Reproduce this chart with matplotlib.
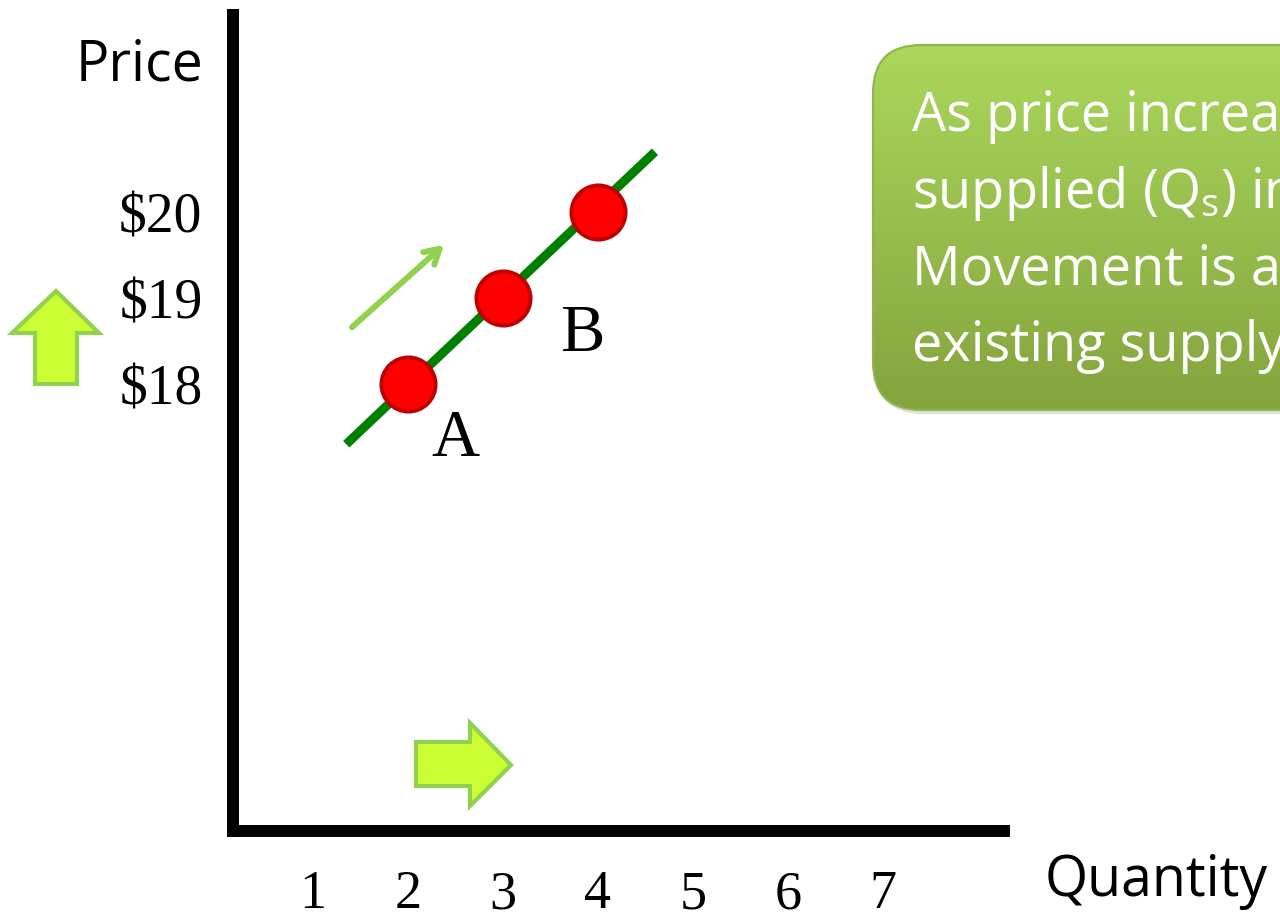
import numpy as np
import matplotlib
matplotlib.use("Agg")
import matplotlib.pyplot as plt
import matplotlib.patches as mpatches

# --- data -------------------------------------------------------------
quantity = [2, 3, 4]
price = [18, 19, 20]
point_labels = ["A", "", "B"]
supply_q = [1.35, 4.6]
supply_p = [17.3, 20.7]
q_ticks = [1, 2, 3, 4, 5, 6, 7]
p_ticks = [18, 19, 20]
p_tick_labels = [r"\$18", r"\$19", r"\$20"]
box_lines = ["As price increases, quantity",
             r"supplied (Q$_\mathregular{s}$) increases.",
             "Movement is along the",
             "existing supply curve."]

W, H = 1280, 918
SANS = "Open Sans"
SERIF = "Liberation Serif"
plt.rcParams["mathtext.default"] = "regular"

fig = plt.figure(figsize=(W / 100, H / 100), dpi=100)

# main chart axes
ax = fig.add_axes([233 / W, 1 - 831 / H, 771 / W, 816 / H])
ax.set_xlim(0.158, 8.274)
ax.set_ylim(12.802, 22.291)
for s in ("top", "right"):
    ax.spines[s].set_visible(False)
for s in ("left", "bottom"):
    ax.spines[s].set_linewidth(8.6)
    ax.spines[s].set_color("black")
    ax.spines[s].set_capstyle("projecting")

ax.set_xticks(q_ticks)
ax.set_xticklabels([str(q) for q in q_ticks], fontfamily=SERIF, fontsize=39)
ax.set_yticks(p_ticks)
ax.set_yticklabels(p_tick_labels, fontfamily=SERIF, fontsize=40)
ax.tick_params(axis="x", length=0, pad=28)
ax.tick_params(axis="y", length=0, pad=22)
ax.patch.set_visible(False)

# supply curve and points
ax.plot(supply_q, supply_p, color="#008000", lw=6.5, solid_capstyle="butt", zorder=2)
ax.plot(quantity, price, "o", ms=39, mfc="#FF0000", mec="#C00000", mew=2.8,
        ls="none", zorder=3, clip_on=False)

# point labels
ax.text(quantity[0] + 0.5, price[0] - 0.65, point_labels[0], fontfamily=SERIF,
        fontsize=48, ha="center", va="center")
ax.text(quantity[2] - 0.16, price[2] - 1.42, point_labels[2], fontfamily=SERIF,
        fontsize=48, ha="center", va="center")

# movement arrow along the curve
ax.annotate("", xy=(2.38, 19.62), xytext=(1.41, 18.66),
            arrowprops=dict(arrowstyle="->,head_length=1.05,head_width=0.6",
                            color="#92D050", lw=4.3, capstyle="round",
                            shrinkA=0, shrinkB=0))

# decoration layer in pixel coordinates
deco = fig.add_axes([0, 0, 1, 1])
deco.set_xlim(0, W)
deco.set_ylim(H, 0)
deco.axis("off")
deco.patch.set_visible(False)

deco.text(203, 66, "Price", fontfamily=SANS, fontsize=40, ha="right", va="center")
deco.text(1045, 882, "Quantity", fontfamily=SANS, fontsize=40, ha="left", va="center")

# fat arrows indicating rising price and quantity
up = [(56, 291), (99, 333), (77, 333), (77, 384), (35, 384), (35, 333), (12, 333)]
right = [(511, 765), (470, 723), (470, 742), (416, 742), (416, 786), (470, 786), (470, 806)]
for poly in (up, right):
    deco.add_patch(mpatches.Polygon(poly, closed=True, fc="#CCFF33", ec="#92D050",
                                    lw=3, joinstyle="miter"))

# rounded green callout with vertical gradient
bx0, by0, bx1, by1 = 873, 45, 1330, 410
shadow = mpatches.FancyBboxPatch((bx0 + 2, by0 + 4), bx1 - bx0, by1 - by0,
                                 boxstyle="round,pad=0,rounding_size=48",
                                 fc="#000000", ec="none", alpha=0.12)
deco.add_patch(shadow)
box = mpatches.FancyBboxPatch((bx0, by0), bx1 - bx0, by1 - by0,
                              boxstyle="round,pad=0,rounding_size=48",
                              fc="none", ec="#8DB54A", lw=1.5)
grad = np.linspace(0, 1, 256)[:, None]
top_c = np.array([0xAB, 0xD7, 0x5C]) / 255
bot_c = np.array([0x84, 0xA4, 0x3E]) / 255
img = top_c[None, None, :] * (1 - grad[..., None]) + bot_c[None, None, :] * grad[..., None]
im = deco.imshow(img, extent=(bx0, bx1, by1, by0), aspect="auto", zorder=1)
deco.add_patch(box)
im.set_clip_path(box)
box.set_zorder(2)

for i, line in enumerate(box_lines):
    deco.text(912, 117 + 76.5 * i, line, color="white", fontfamily=SANS,
              fontsize=39, ha="left", va="center", zorder=3)

fig.savefig("out.png", dpi=100)
